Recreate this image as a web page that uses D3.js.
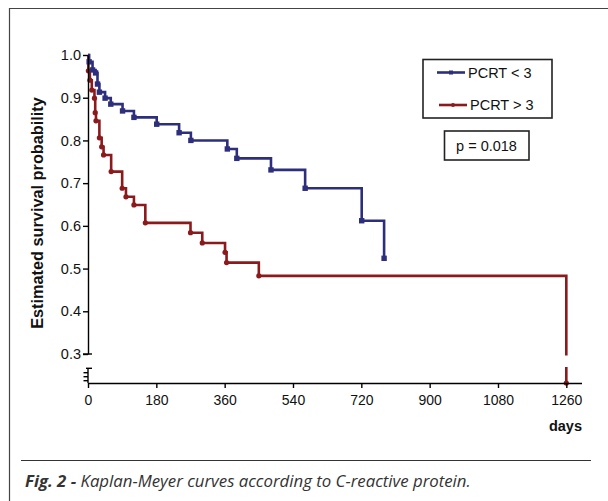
<!DOCTYPE html>
<html lang="en">
<head>
  <meta charset="UTF-8">
  <title>Kaplan-Meyer curves</title>
  <style>
    body {
      margin: 0;
      padding: 0;
      background: #fff;
    }
    svg {
      display: block;
      font-family: 'Liberation Sans', Arial, sans-serif;
    }
  </style>
</head>
<body>

<script src="https://d3js.org/d3.v7.min.js"></script>

<script>
  // Data (days, survival probability at each step)
  const lowTimes = [3, 12, 20, 25, 30, 45, 60, 91, 121, 181, 240, 271, 367, 392, 482, 572, 721, 780];
  const lowSurv = [0.984, 0.965, 0.958, 0.932, 0.913, 0.899, 0.885, 0.869, 0.854, 0.838, 0.818, 0.800, 0.780, 0.758, 0.731, 0.688, 0.612, 0.524];

  const highTimes = [1, 5, 10, 17, 19, 21, 30, 36, 41, 61, 90, 100, 121, 151, 270, 301, 361, 365, 450, 1260];
  const highSurv = [0.963, 0.941, 0.918, 0.899, 0.865, 0.846, 0.806, 0.785, 0.766, 0.727, 0.688, 0.668, 0.649, 0.607, 0.584, 0.560, 0.538, 0.514, 0.483, 0];

  const seriesNames = ['PCRT < 3', 'PCRT > 3'];
  const xTicks = [0, 180, 360, 540, 720, 900, 1080, 1260];
  const yTicks = [0.3, 0.4, 0.5, 0.6, 0.7, 0.8, 0.9, 1.0];
  const pText = 'p = 0.018';

  const blue = '#2d2f7d';
  const red = '#8b1a1c';
  const axisFont = "'Liberation Sans', Arial, sans-serif";

  const svg = d3.select('body').append('svg')
    .attr('width', 608)
    .attr('height', 501);

  // frame lines of the figure
  svg.append('path')
    .attr('d', 'M9.5,501 V8.5 H608')
    .attr('fill', 'none')
    .attr('stroke', '#444')
    .attr('stroke-width', 1.2);

  // scales (y is broken between 0 and 0.3)
  const x = d3.scaleLinear().domain([0, 1300]).range([88, 581.5]);
  const y = d3.scaleLinear().domain([0, 0.3, 1]).range([383, 354, 55]);
  const yTop = d3.scaleLinear().domain([0.3, 1]).range([354, 55]);

  // Kaplan-Meier step lines
  const line = d3.line()
    .x(d => x(d[0]))
    .y(d => y(d[1]))
    .curve(d3.curveStepAfter);

  function drawCurve(times, surv, color, shape) {
    const pts = [[0, 1]].concat(times.map((t, i) => [t, surv[i]]));
    svg.append('path')
      .attr('d', line(pts))
      .attr('fill', 'none')
      .attr('stroke', color)
      .attr('stroke-width', 2.6);

    const marks = svg.append('g');
    if (shape === 'square') {
      marks.selectAll('rect')
        .data(pts.slice(1))
        .enter().append('rect')
        .attr('x', d => x(d[0]) - 2.7)
        .attr('y', d => y(d[1]) - 2.7)
        .attr('width', 5.4)
        .attr('height', 5.4)
        .attr('fill', color);
    } else {
      marks.selectAll('circle')
        .data(pts.slice(1))
        .enter().append('circle')
        .attr('cx', d => x(d[0]))
        .attr('cy', d => y(d[1]))
        .attr('r', 2.6)
        .attr('fill', color);
    }
  }

  drawCurve(highTimes, highSurv, red, 'circle');
  drawCurve(lowTimes, lowSurv, blue, 'square');

  // gap for the axis break
  svg.append('rect')
    .attr('x', 80).attr('y', 355.5)
    .attr('width', 520).attr('height', 11.5)
    .attr('fill', '#fff');

  // y axis (upper part)
  const yAxis = svg.append('g')
    .attr('transform', 'translate(88,0)')
    .call(d3.axisLeft(yTop).tickValues(yTicks).tickFormat(d3.format('.1f')).tickSize(5).tickSizeOuter(0));
  yAxis.select('.domain').attr('stroke', '#000').attr('stroke-width', 1.4);
  yAxis.selectAll('.tick line').attr('stroke', '#000').attr('stroke-width', 1.4);
  yAxis.selectAll('.tick text')
    .attr('x', -7)
    .attr('font-size', 14.5)
    .attr('font-family', axisFont)
    .attr('fill', '#111');

  // break marks
  const brk = svg.append('g').attr('stroke', '#000').attr('stroke-width', 1.4);
  brk.append('line').attr('x1', 83).attr('x2', 92).attr('y1', 354).attr('y2', 354);
  brk.append('line').attr('x1', 86).attr('x2', 92).attr('y1', 368.3).attr('y2', 368.3);
  brk.append('line').attr('x1', 88).attr('x2', 88).attr('y1', 368.3).attr('y2', 383);
  [372.7, 376.7, 380.7].forEach(v => {
    brk.append('line').attr('x1', 83.5).attr('x2', 88).attr('y1', v).attr('y2', v);
  });

  // x axis
  const xAxis = svg.append('g')
    .attr('transform', 'translate(0,383)')
    .call(d3.axisBottom(x).tickValues(xTicks).tickFormat(d3.format('d')).tickSize(5).tickSizeOuter(0));
  xAxis.select('.domain').attr('stroke', '#000').attr('stroke-width', 1.4);
  xAxis.selectAll('.tick line').attr('stroke', '#000').attr('stroke-width', 1.4);
  xAxis.selectAll('.tick text')
    .attr('y', 12)
    .attr('font-size', 14)
    .attr('font-family', axisFont)
    .attr('fill', '#111');

  svg.append('text')
    .attr('x', 582).attr('y', 431)
    .attr('text-anchor', 'end')
    .attr('font-size', 14.5)
    .attr('font-weight', 'bold')
    .attr('fill', '#111')
    .text('days');

  svg.append('text')
    .attr('transform', 'translate(43,213) rotate(-90)')
    .attr('text-anchor', 'middle')
    .attr('font-size', 16.3)
    .attr('font-weight', 'bold')
    .attr('fill', '#111')
    .text('Estimated survival probability');

  // legend
  const legend = svg.append('g');
  legend.append('rect')
    .attr('x', 423).attr('y', 59.5)
    .attr('width', 129).attr('height', 58.5)
    .attr('fill', 'none').attr('stroke', '#222').attr('stroke-width', 1.6);

  const legendRows = [
    { name: seriesNames[0], color: blue, shape: 'square', y: 72.5, x1: 437, x2: 465 },
    { name: seriesNames[1], color: red, shape: 'circle', y: 105, x1: 439, x2: 467 }
  ];
  legendRows.forEach(r => {
    legend.append('line')
      .attr('x1', r.x1).attr('x2', r.x2)
      .attr('y1', r.y).attr('y2', r.y)
      .attr('stroke', r.color).attr('stroke-width', 2.6);
    if (r.shape === 'square') {
      legend.append('rect')
        .attr('x', (r.x1 + r.x2) / 2 - 2).attr('y', r.y - 2)
        .attr('width', 4).attr('height', 4).attr('fill', r.color);
    } else {
      legend.append('circle')
        .attr('cx', (r.x1 + r.x2) / 2).attr('cy', r.y)
        .attr('r', 2).attr('fill', r.color);
    }
    legend.append('text')
      .attr('x', r.x2 + 3).attr('y', r.y + 5)
      .attr('font-size', 14.5)
      .attr('fill', '#111')
      .text(r.name);
  });

  // p value box
  svg.append('rect')
    .attr('x', 444.5).attr('y', 131)
    .attr('width', 84.5).attr('height', 29)
    .attr('fill', 'none').attr('stroke', '#222').attr('stroke-width', 1.6);
  svg.append('text')
    .attr('x', 486.5).attr('y', 151)
    .attr('text-anchor', 'middle')
    .attr('font-size', 14.5)
    .attr('fill', '#111')
    .text(pText);

  // caption
  svg.append('line')
    .attr('x1', 21).attr('x2', 591)
    .attr('y1', 460.5).attr('y2', 460.5)
    .attr('stroke', '#333').attr('stroke-width', 1);

  const cap = svg.append('text')
    .attr('x', 25).attr('y', 487)
    .attr('font-family', "'Open Sans', 'Noto Sans', sans-serif")
    .attr('font-size', 16.8)
    .attr('font-style', 'italic')
    .attr('fill', '#333');
  cap.append('tspan').attr('font-weight', 'bold').text('Fig. 2 -');
  cap.append('tspan').text(' Kaplan-Meyer curves according to C-reactive protein.');
</script>

</body>
</html>
